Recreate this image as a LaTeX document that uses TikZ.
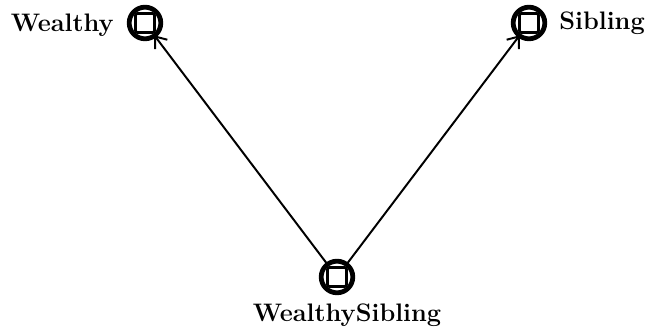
\documentclass[tikz,border=0pt]{standalone}
\usepackage{fontspec}
\usetikzlibrary{arrows.meta}

\tikzset{
  varnode/.style={circle,draw,line width=3.4pt,minimum size=22.5pt,inner sep=0pt,
    path picture={\draw[line width=1.9pt,rounded corners=1.5pt]
      ([shift={(-6.8pt,-6.8pt)}]path picture bounding box.center) rectangle
      ([shift={(6.8pt,6.8pt)}]path picture bounding box.center);}},
  varlabel/.style={inner sep=0pt,font=\fontsize{18}{21}\selectfont\bfseries\addfontfeatures{LetterSpace=6}},
  link/.style={line width=1.4pt,-{Straight Barb[length=7pt,width=11pt,line width=1.4pt]},shorten >=-2pt}
}

\begin{document}
\begin{tikzpicture}[x=0.025cm,y=-0.025cm,line cap=round,line join=round]
        \useasboundingbox (0,0) rectangle (647,333);

        % Variablen
        \node[varnode] (wealthy) at (145,23) {};
        \node[varnode] (sibling) at (529,23) {};
        \node[varnode] (wsib) at (337,277) {};

        % Beschriftungen
        \node[varlabel,anchor=base east] (wealthyl) at (114,32) {Wealthy};
        \node[varlabel,anchor=base west] (siblingl) at (559,30) {Sibling};
        \node[varlabel,anchor=base] (wsibl) at (347,322) {WealthySibling};

        % Kanten
        \draw[link] (wsib) -- (wealthy);
        \draw[link] (wsib) -- (sibling);

    \end{tikzpicture}
\end{document}
